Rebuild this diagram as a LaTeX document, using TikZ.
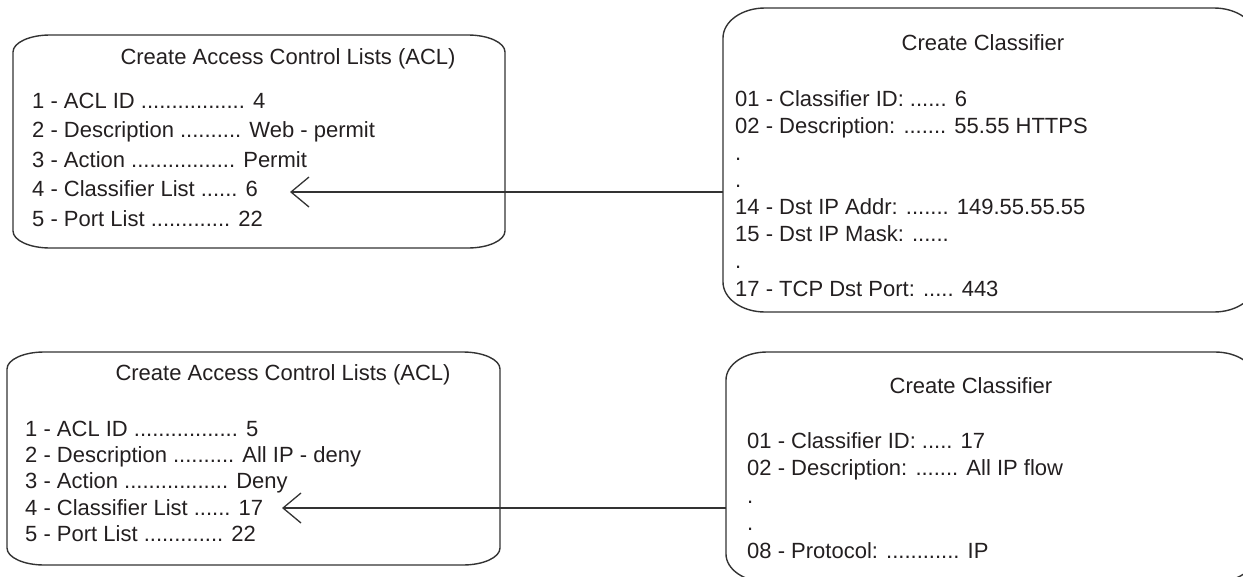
\documentclass[tikz,border=0pt]{standalone}
\usepackage{fontspec}
\setmainfont{Liberation Sans}
\usetikzlibrary{arrows.meta}
\definecolor{linecol}{HTML}{333333}
\definecolor{textcol}{HTML}{231F20}
\newcommand{\softbox}[6]{%
 \draw[boxline] (#1,#2+#6) .. controls (#1,#2+0.448*#6) and (#1+0.448*#5,#2) .. (#1+#5,#2)
   -- (#3-#5,#2) .. controls (#3-0.448*#5,#2) and (#3,#2+0.448*#6) .. (#3,#2+#6)
   -- (#3,#4-#6) .. controls (#3,#4-0.448*#6) and (#3-0.448*#5,#4) .. (#3-#5,#4)
   -- (#1+#5,#4) .. controls (#1+0.448*#5,#4) and (#1,#4-0.448*#6) .. (#1,#4-#6) -- cycle;}
\tikzset{
 boxline/.style={draw=linecol, line width=1.4pt},
 txt/.style={inner sep=0pt, anchor=base west, font=\fontsize{22}{26}\selectfont, text=textcol},
 ttl/.style={inner sep=0pt, anchor=base, font=\fontsize{22}{26}\selectfont, text=textcol},
 link/.style={draw=linecol, line width=1.3pt, -{Straight Barb[length=18pt,width=30pt,line width=1.3pt]}}
}
\begin{document}
\begin{tikzpicture}[x=1pt,y=-1pt]
\useasboundingbox (0,0) rectangle (1243,576);
\clip (0,0) rectangle (1243,576);
% boxes
\softbox{13}{35}{505}{248}{37}{17}
\softbox{723}{8}{1256}{312}{42}{30}
\softbox{7}{352}{500}{565}{37}{17}
\softbox{726}{352}{1256}{582}{41}{28}
% box 1 text
\node[ttl] (t1) at (288,64) {Create Access Control Lists (ACL)};
\node[txt] (a1) at (32,108) {1 - ACL ID ................. 4};
\node[txt] (a2) at (32,137.5) {2 - Description .......... Web - permit};
\node[txt] (a3) at (32,167) {3 - Action ................. Permit};
\node[txt] (a4) at (32,196.5) {4 - Classifier List ...... 6};
\node[txt] (a5) at (32,226) {5 - Port List ............. 22};
% box 2 text
\node[ttl] (t2) at (983,50) {Create Classifier};
\node[txt] (b1) at (735,106) {01 - Classifier ID: ...... 6};
\node[txt] (b2) at (735,133) {02 - Description: ....... 55.55 HTTPS};
\node[txt] (b3) at (735,160) {.};
\node[txt] (b4) at (735,187) {.};
\node[txt] (b5) at (735,214) {14 - Dst IP Addr: ....... 149.55.55.55};
\node[txt] (b6) at (735,241) {15 - Dst IP Mask: ......};
\node[txt] (b7) at (735,268) {.};
\node[txt] (b8) at (735,296) {17 - TCP Dst Port: ..... 443};
% box 3 text
\node[ttl] (t3) at (283,380) {Create Access Control Lists (ACL)};
\node[txt] (c1) at (25,436) {1 - ACL ID ................. 5};
\node[txt] (c2) at (25,462) {2 - Description .......... All IP - deny};
\node[txt] (c3) at (25,488.5) {3 - Action ................. Deny};
\node[txt] (c4) at (25,515) {4 - Classifier List ...... 17};
\node[txt] (c5) at (25,541) {5 - Port List ............. 22};
% box 4 text
\node[ttl] (t4) at (971,393) {Create Classifier};
\node[txt] (d1) at (747,448) {01 - Classifier ID: ..... 17};
\node[txt] (d2) at (747,475.5) {02 - Description: ....... All IP flow};
\node[txt] (d3) at (747,503) {.};
\node[txt] (d4) at (747,530.5) {.};
\node[txt] (d5) at (747,558) {08 - Protocol: ............ IP};
% connectors
\coordinate (s1) at (723,192);
\coordinate (e1) at (290,192);
\coordinate (s2) at (726,508);
\coordinate (e2) at (282,508);
\draw[link] (s1) -- (e1);
\draw[link] (s2) -- (e2);
\end{tikzpicture}
\end{document}
